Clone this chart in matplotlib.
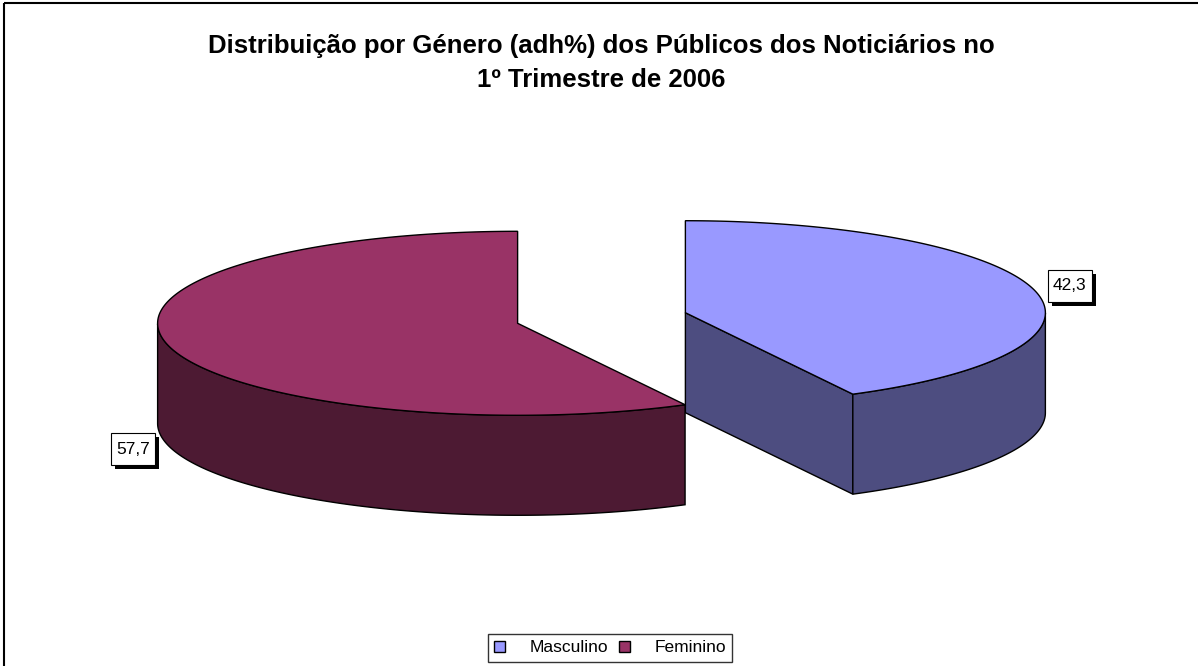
import numpy as np
import matplotlib.pyplot as plt
from matplotlib.patches import Polygon, Rectangle, Patch

# data
labels = ['Masculino', 'Feminino']
values = [42.3, 57.7]
value_text = ['42,3', '57,7']
top_colors = ['#9999FF', '#993366']
side_colors = ['#4D4D80', '#4D1A33']

title = 'Distribuição por Género (adh%) dos Públicos dos Noticiários no\n1º Trimestre de 2006'

plt.rcParams['font.family'] = ['Liberation Sans', 'DejaVu Sans']

fig = plt.figure(figsize=(11.98, 6.66), dpi=100)
ax = fig.add_axes([0, 0, 1, 1])
ax.set_xlim(0, 1198)
ax.set_ylim(666, 0)
ax.axis('off')

# pie geometry in pixels
cx, cy = 601.5, 318
rx, ry = 360, 92
depth = 100
explode = 0.24


def ell(x0, y0, th):
    return x0 + rx * np.cos(th), y0 - ry * np.sin(th)


def visible_runs(th):
    # parts of the rim facing the viewer (lower half of the ellipse)
    vis = np.sin(th) <= 1e-9
    runs, cur = [], []
    for t, v in zip(th, vis):
        if v:
            cur.append(t)
        elif cur:
            runs.append(cur)
            cur = []
    if cur:
        runs.append(cur)
    return runs


value_labels = []
total = sum(values)
start = 90.0
for i, v in enumerate(values):
    sweep = 360.0 * v / total
    a1, a2 = np.radians(start), np.radians(start - sweep)
    mid = (a1 + a2) / 2
    x0 = cx + explode * rx * np.cos(mid)
    y0 = cy - explode * ry * np.sin(mid)
    th = np.linspace(a1, a2, 300)
    ex, ey = ell(x0, y0, th)

    # radial walls facing the viewer
    for a, sgn in ((a1, 1), (a2, -1)):
        normal = a + sgn * np.pi / 2
        if np.sin(normal) < -1e-6:
            px, py = ell(x0, y0, a)
            ax.add_patch(Polygon([(x0, y0), (px, py), (px, py + depth), (x0, y0 + depth)],
                                 closed=True, fc=side_colors[i], ec='black', lw=1, zorder=2))
    # outer wall
    for run in visible_runs(th):
        run = np.array(run)
        rxs, rys = ell(x0, y0, run)
        pts = list(zip(rxs, rys)) + list(zip(rxs[::-1], rys[::-1] + depth))
        ax.add_patch(Polygon(pts, closed=True, fc=side_colors[i], ec='black', lw=1, zorder=2))
    # top face
    pts = [(x0, y0)] + list(zip(ex, ey))
    ax.add_patch(Polygon(pts, closed=True, fc=top_colors[i], ec='black', lw=1, zorder=3))

    # value label (front slices get it below the wall)
    lx = x0 + 1.1 * rx * np.cos(mid)
    if np.sin(mid) < 0:
        ly = y0 - 1.1 * ry * np.sin(mid) + depth
    else:
        ly = y0 - 1.3 * ry * np.sin(mid)
    t = ax.text(lx, ly, value_text[i], fontsize=12.5, ha='center', va='center_baseline',
                color='black', zorder=6)
    value_labels.append(t)
    start -= sweep

# white boxes with drop shadows behind the value labels
fig.canvas.draw()
for t in value_labels:
    bb = t.get_window_extent()
    xc, yc = (bb.x0 + bb.x1) / 2, (bb.y0 + bb.y1) / 2
    w, h = bb.width + 10, 32
    ax.add_patch(Rectangle((xc - w / 2 + 4, yc - h / 2 - 4), w, h, transform=None,
                           fc='black', ec='none', zorder=4))
    ax.add_patch(Rectangle((xc - w / 2, yc - h / 2), w, h, transform=None,
                           fc='white', ec='black', lw=0.8, zorder=5))

# chart frame
ax.add_patch(Rectangle((4, 3), 1250, 700, fill=False, ec='black', lw=1.5, zorder=1))

ax.text(601, 63, title, fontsize=18.5, fontweight='bold', ha='center', va='center',
        linespacing=1.55)

handles = [Patch(fc=c, ec='black', lw=1) for c in top_colors]
leg = ax.legend(handles, labels, loc='center', bbox_to_anchor=(610 / 1198, 1 - 648 / 666),
                ncol=2, fontsize=12.5, frameon=True, fancybox=False, edgecolor='black',
                handlelength=0.65, handleheight=0.65, handletextpad=1.4, columnspacing=0.6,
                borderpad=0.35)
leg.get_frame().set_linewidth(1)

fig.savefig('out.png', dpi=100)
